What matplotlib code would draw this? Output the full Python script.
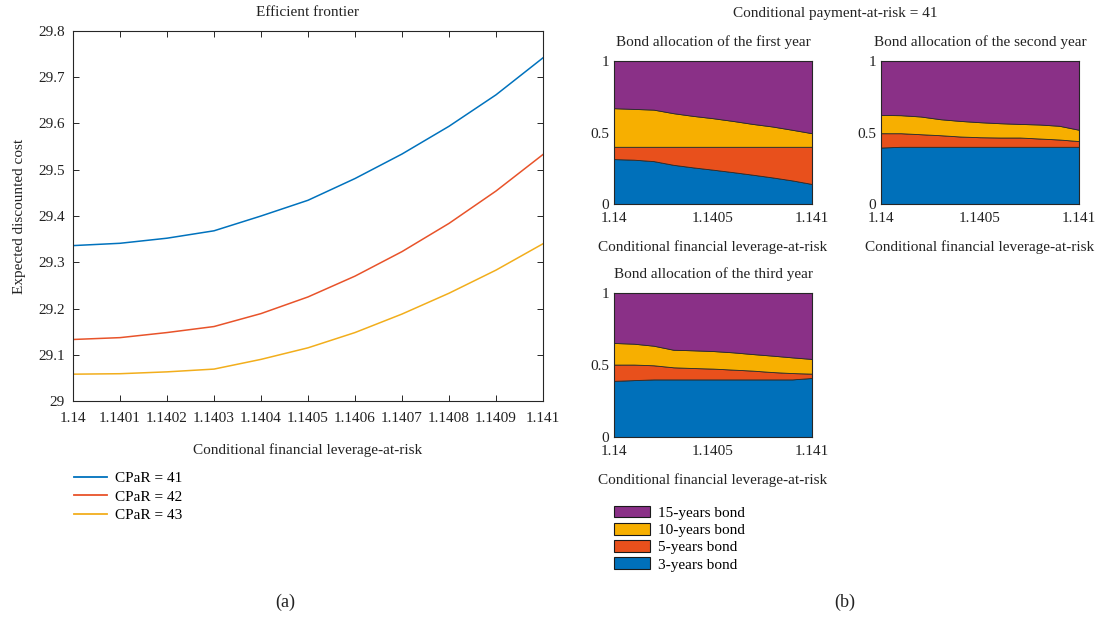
import numpy as np
import matplotlib
matplotlib.use("Agg")
import matplotlib.pyplot as plt
from matplotlib.patches import Patch
from matplotlib.lines import Line2D

plt.rcParams['font.family'] = ['Liberation Serif', 'DejaVu Serif']
FS = 11

# ---- data -------------------------------------------------------------
leverage = [1.1400, 1.1401, 1.1402, 1.1403, 1.1404, 1.1405,
            1.1406, 1.1407, 1.1408, 1.1409, 1.1410]

cost_cpar41 = [29.336, 29.341, 29.352, 29.368, 29.400, 29.434,
               29.481, 29.534, 29.594, 29.662, 29.742]
cost_cpar42 = [29.133, 29.137, 29.148, 29.161, 29.189, 29.225,
               29.270, 29.323, 29.384, 29.454, 29.533]
cost_cpar43 = [29.058, 29.059, 29.063, 29.069, 29.090, 29.115,
               29.148, 29.188, 29.233, 29.283, 29.340]

frontier_labels = ['CPaR = 41', 'CPaR = 42', 'CPaR = 43']

bond_labels = ['3-years bond', '5-years bond', '10-years bond', '15-years bond']

year1_3y = [0.314, 0.310, 0.300, 0.274, 0.256, 0.240, 0.223, 0.205, 0.186, 0.165, 0.140]
year1_5y = [0.086, 0.090, 0.100, 0.126, 0.144, 0.160, 0.177, 0.195, 0.214, 0.235, 0.260]
year1_10y = [0.270, 0.265, 0.260, 0.235, 0.216, 0.200, 0.181, 0.160, 0.142, 0.119, 0.095]
year1_15y = [0.330, 0.335, 0.340, 0.365, 0.384, 0.400, 0.419, 0.440, 0.458, 0.481, 0.505]

year2_3y = [0.395, 0.400, 0.400, 0.400, 0.400, 0.400, 0.400, 0.400, 0.400, 0.400, 0.400]
year2_5y = [0.100, 0.095, 0.088, 0.081, 0.072, 0.067, 0.065, 0.065, 0.058, 0.051, 0.040]
year2_10y = [0.128, 0.126, 0.124, 0.112, 0.109, 0.105, 0.100, 0.095, 0.098, 0.096, 0.079]
year2_15y = [0.377, 0.379, 0.388, 0.407, 0.419, 0.428, 0.435, 0.440, 0.444, 0.453, 0.481]

year3_3y = [0.390, 0.395, 0.400, 0.400, 0.400, 0.400, 0.400, 0.400, 0.400, 0.400, 0.410]
year3_5y = [0.113, 0.108, 0.098, 0.084, 0.079, 0.075, 0.068, 0.061, 0.051, 0.044, 0.030]
year3_10y = [0.150, 0.145, 0.136, 0.122, 0.123, 0.122, 0.120, 0.115, 0.114, 0.109, 0.102]
year3_15y = [0.347, 0.352, 0.366, 0.394, 0.398, 0.403, 0.412, 0.424, 0.435, 0.447, 0.458]

frontier_xticks = [1.1400, 1.1401, 1.1402, 1.1403, 1.1404, 1.1405,
                   1.1406, 1.1407, 1.1408, 1.1409, 1.1410]
frontier_xticklabels = ['1.14', '1.1401', '1.1402', '1.1403', '1.1404', '1.1405',
                        '1.1406', '1.1407', '1.1408', '1.1409', '1.141']
frontier_yticks = [29.0, 29.1, 29.2, 29.3, 29.4, 29.5, 29.6, 29.7, 29.8]
frontier_yticklabels = ['29', '29.1', '29.2', '29.3', '29.4', '29.5', '29.6', '29.7', '29.8']

alloc_xticks = [1.1400, 1.1405, 1.1410]
alloc_xticklabels = ['1.14', '1.1405', '1.141']
alloc_yticks = [0, 0.5, 1]
alloc_yticklabels = ['0', '0.5', '1']

# ---- styling ----------------------------------------------------------
line_colors = ['#0072BD', '#E8532A', '#F2AE1C']
bond_colors = ['#0070BA', '#E8501C', '#F7AF00', '#8A3087']
frame_color = '#262626'
text_color = '#222222'

W, H = 1105, 618
fig = plt.figure(figsize=(W / 100, H / 100), dpi=100)


def px_axes(x0, y0, x1, y1):
    return fig.add_axes([x0 / W, 1 - y1 / H, (x1 - x0) / W, (y1 - y0) / H])


def style_axes(ax):
    for s in ax.spines.values():
        s.set_color(frame_color)
        s.set_linewidth(0.8)
    ax.tick_params(direction='in', length=4, width=0.7, color=frame_color,
                   top=True, right=True, labelsize=FS, labelcolor=text_color)


# ---- (a) efficient frontier -------------------------------------------
ax = px_axes(73, 31, 543, 401)
for series, c, lab in zip([cost_cpar41, cost_cpar42, cost_cpar43], line_colors, frontier_labels):
    ax.plot(leverage, series, color=c, lw=1.1, label=lab)
ax.set_xlim(1.14, 1.141)
ax.set_ylim(29.0, 29.8)
ax.set_xticks(frontier_xticks)
ax.set_xticklabels(frontier_xticklabels)
ax.set_yticks(frontier_yticks)
ax.set_yticklabels(frontier_yticklabels)
style_axes(ax)
ax.tick_params(axis='x', pad=8)
ax.tick_params(axis='y', pad=6)
ax.set_title('Efficient frontier', fontsize=FS, pad=11, color=text_color)
ax.set_xlabel('Conditional financial leverage-at-risk', fontsize=FS, labelpad=13,
              color=text_color)
ax.set_ylabel('Expected discounted cost', fontsize=FS, labelpad=9, color=text_color)

handles = [Line2D([], [], color=c, lw=1.3) for c in line_colors]
fig.legend(handles, frontier_labels, loc='upper left',
           bbox_to_anchor=(60 / W, 1 - 458 / H), frameon=False,
           fontsize=FS, handlelength=2.2, handletextpad=0.5, labelspacing=0.3)

fig.text(285 / W, 1 - 602 / H, '(a)', ha='center', va='center', fontsize=13,
         color=text_color)

# ---- (b) bond allocations ---------------------------------------------
fig.text(835 / W, 1 - 13 / H, 'Conditional payment-at-risk = 41',
         ha='center', va='center', fontsize=FS, color=text_color)

alloc_sets = [
    ('Bond allocation of the first year', (614, 61, 812, 204),
     [year1_3y, year1_5y, year1_10y, year1_15y]),
    ('Bond allocation of the second year', (881, 61, 1079, 204),
     [year2_3y, year2_5y, year2_10y, year2_15y]),
    ('Bond allocation of the third year', (614, 293, 812, 437),
     [year3_3y, year3_5y, year3_10y, year3_15y]),
]

for title, box, shares in alloc_sets:
    a = px_axes(*box)
    a.stackplot(leverage, *shares, colors=bond_colors,
                edgecolor='#2a2a2a', linewidth=0.6)
    a.set_axisbelow(True)
    a.set_xlim(1.14, 1.141)
    a.set_ylim(0, 1)
    a.set_xticks(alloc_xticks)
    a.set_xticklabels(alloc_xticklabels)
    a.set_yticks(alloc_yticks)
    a.set_yticklabels(alloc_yticklabels)
    style_axes(a)
    a.tick_params(axis='x', pad=6)
    a.set_title(title, fontsize=FS, pad=10.5, color=text_color)
    a.set_xlabel('Conditional financial leverage-at-risk', fontsize=FS, labelpad=11,
                 color=text_color)

patch_handles = [Patch(facecolor=c, edgecolor='#1a1a1a', linewidth=0.8) for c in bond_colors]
fig.legend(patch_handles[::-1], bond_labels[::-1], loc='upper left',
           bbox_to_anchor=(600 / W, 1 - 492 / H), frameon=False,
           fontsize=FS, handlelength=2.4, handleheight=0.8,
           handletextpad=0.5, labelspacing=0.2)

fig.text(845 / W, 1 - 602 / H, '(b)', ha='center', va='center', fontsize=13,
         color=text_color)

fig.savefig('out.png', dpi=100)
